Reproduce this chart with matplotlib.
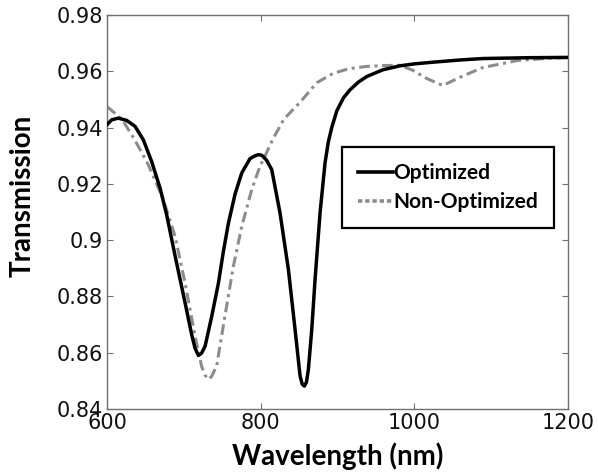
import matplotlib
matplotlib.use("Agg")
import matplotlib.pyplot as plt
from matplotlib.lines import Line2D

# Optimized (black solid)
wl_opt = [600, 606, 614.7, 625.5, 636.4, 647.2, 658, 669, 677.6, 688.5, 701.5, 710, 714.5, 718.9,
          723, 727.6, 736.3, 745, 751.4, 758, 766.7, 775.3, 786, 792.6, 797, 801.3, 807.5, 814.3,
          825.1, 836, 844.7, 851.2, 854, 856.8, 859.5, 862, 866.4, 870.7, 877.2, 883.7, 888,
          892.4, 899, 907.6, 916.3, 927, 938, 959, 981, 1000, 1024, 1060, 1089, 1150, 1200]
t_opt = [0.9411, 0.9428, 0.9434, 0.9426, 0.9405, 0.9357, 0.9280, 0.9185, 0.9090, 0.8945, 0.8778,
         0.8666, 0.8616, 0.8590, 0.8598, 0.8623, 0.8730, 0.8848, 0.8960, 0.9061, 0.9165, 0.9239,
         0.9290, 0.9300, 0.9304, 0.9302, 0.9285, 0.9251, 0.9097, 0.8896, 0.8682, 0.8517, 0.8488,
         0.8481, 0.8495, 0.8540, 0.8682, 0.8860, 0.9097, 0.9275, 0.9350, 0.9400, 0.9460, 0.9506,
         0.9535, 0.9562, 0.9582, 0.9606, 0.9620, 0.9627, 0.9633, 0.9641, 0.9646, 0.9649, 0.9650]

# Non-optimized (gray dash-dot)
wl_non = [600, 610, 620, 636, 653, 672, 688.5, 701.5, 714.5, 723, 727.5, 731.7, 736, 742.6, 753.4,
          764.4, 775.3, 788.3, 799, 803, 815, 830, 851, 873, 894, 915, 938, 960, 981, 998, 1016,
          1037, 1059, 1089, 1134, 1170, 1200]
t_non = [0.9475, 0.9452, 0.9428, 0.9357, 0.9272, 0.9154, 0.9014, 0.8848, 0.8659, 0.8552, 0.8520,
         0.8505, 0.8515, 0.8552, 0.8730, 0.8907, 0.9049, 0.9180, 0.9263, 0.9284, 0.9355, 0.9430,
         0.9490, 0.9560, 0.9593, 0.9610, 0.9618, 0.9621, 0.9622, 0.9604, 0.9575, 0.9550, 0.9579,
         0.9614, 0.9639, 0.9646, 0.9650]

xticks = [600, 800, 1000, 1200]
yticks = [0.84, 0.86, 0.88, 0.90, 0.92, 0.94, 0.96, 0.98]
ytick_labels = ["0.84", "0.86", "0.88", "0.9", "0.92", "0.94", "0.96", "0.98"]

fig = plt.figure(figsize=(5.98, 4.76), dpi=100)
ax = fig.add_axes([0.179, 0.141, 0.771, 0.827])

ax.plot(wl_opt, t_opt, color="black", lw=2.5, solid_joinstyle="round", zorder=3)
ax.plot(wl_non, t_non, color="#8c8c8c", lw=2.2, dashes=(3.5, 1.5, 1, 1.5), zorder=2)

ax.set_xlim(600, 1200)
ax.set_ylim(0.84, 0.98)
ax.set_xticks(xticks)
ax.set_xticklabels([str(v) for v in xticks])
ax.set_yticks(yticks)
ax.set_yticklabels(ytick_labels)

for s in ax.spines.values():
    s.set_color("#707070")
    s.set_linewidth(1.0)

ax.tick_params(direction="in", top=True, right=True, length=4, width=0.8, color="#707070",
               labelsize=15, labelcolor="#111111", pad=3)
for lab in ax.get_xticklabels() + ax.get_yticklabels():
    lab.set_family("DejaVu Sans")

ax.set_xlabel("Wavelength (nm)", fontfamily="Lato", fontweight="bold", fontsize=20, labelpad=7)
ax.set_ylabel("Transmission", fontfamily="Lato", fontweight="bold", fontsize=20, labelpad=6)
ax.yaxis.set_label_coords(-0.155, 0.54)

handles = [Line2D([], [], color="black", lw=2.6),
           Line2D([], [], color="#8c8c8c", lw=2.6, linestyle=(0, (1.2, 0.8)))]
leg = ax.legend(handles, ["Optimized", "Non-Optimized"], loc="upper left",
                bbox_to_anchor=(0.510, 0.664), borderaxespad=0.0, frameon=True, fancybox=False,
                handlelength=1.7, handletextpad=0.0, borderpad=0.75, labelspacing=0.45,
                prop={"family": "Lato", "size": 15, "weight": "bold"})
leg.get_frame().set_edgecolor("black")
leg.get_frame().set_linewidth(1.6)
leg.get_frame().set_alpha(1)

fig.savefig("out.png", dpi=100)
